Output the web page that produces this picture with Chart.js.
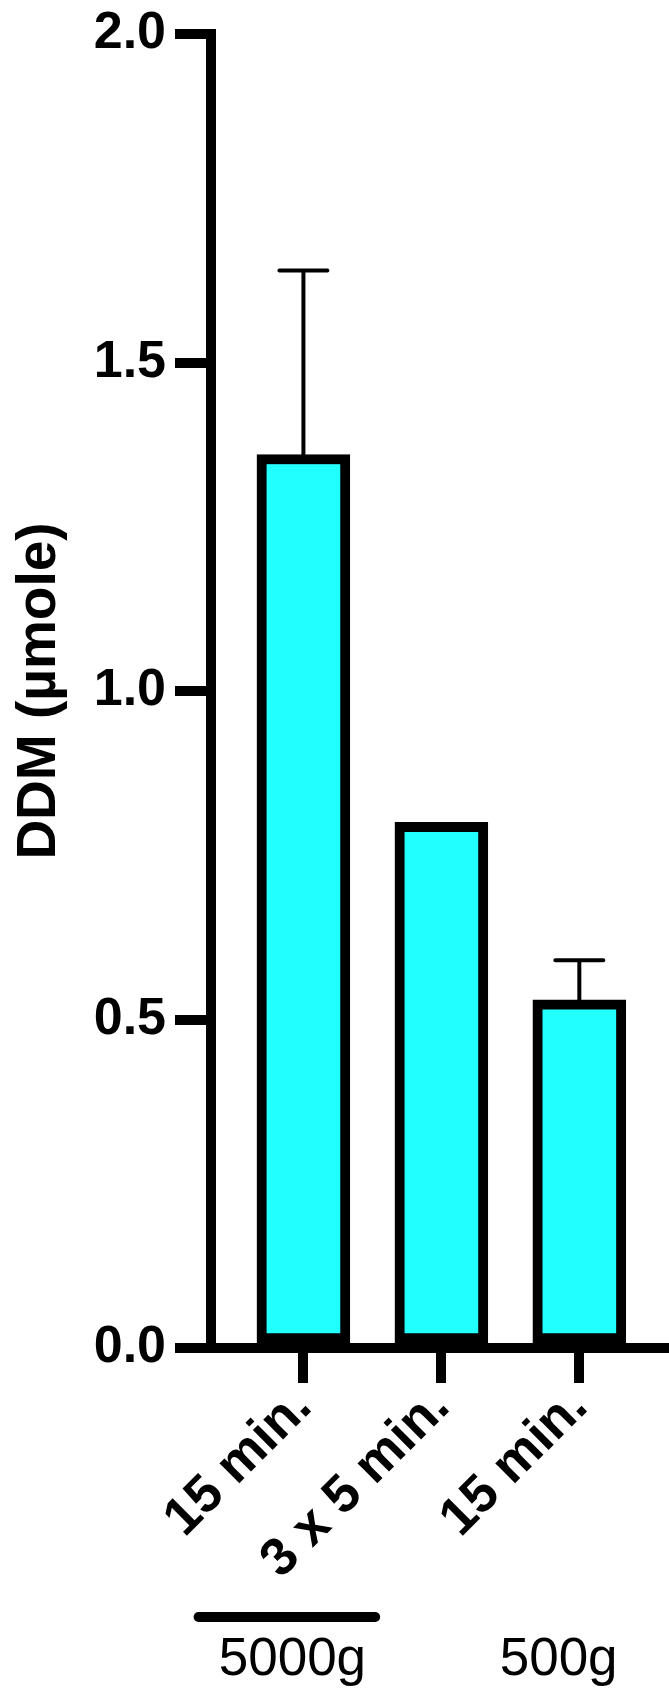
<!DOCTYPE html>
<html>
<head>
<meta charset="utf-8">
<script src="https://cdn.jsdelivr.net/npm/chart.js@4.4.1/dist/chart.umd.min.js"></script>
<style>
  html, body { margin: 0; padding: 0; background: #fff; }
  #wrap { width: 669px; height: 1689px; position: relative; }
</style>
</head>
<body>
<div id="wrap"><canvas id="DdmBar"></canvas></div>
<script>
// values
let tickLabels = ['15 min.', '3 x 5 min.', '15 min.'];
let ddmValues = [1.36, 0.80, 0.53];
let ddmErrors = [0.28, 0, 0.06];
let groupLabels = ['5000g', '500g'];
let yTicks = [0, 0.5, 1.0, 1.5, 2.0];

// group annotation placement (x in category units, y below plot area)
let groupStyle = [
    { center: -0.08, lineFrom: -0.76, lineTo: 0.52, line: true },
    { center: 1.85, line: false }
];

let fontFamily = "'Liberation Sans', Arial, Helvetica, sans-serif";

let errorBarPlugin = {
    id: 'errorBars',
    afterDatasetsDraw: function (chart) {
        let ctx = chart.ctx;
        let meta = chart.getDatasetMeta(0);
        let yScale = chart.scales.y;
        ctx.save();
        ctx.strokeStyle = '#000';
        ctx.lineWidth = 4;
        ctx.lineCap = 'round';
        for (let i = 0; i < ddmValues.length; i++) {
            if (!ddmErrors[i]) continue;
            let x = meta.data[i].x;
            let yBar = yScale.getPixelForValue(ddmValues[i]);
            let yTop = yScale.getPixelForValue(ddmValues[i] + ddmErrors[i]);
            ctx.beginPath();
            ctx.moveTo(x, yBar);
            ctx.lineTo(x, yTop);
            ctx.moveTo(x - 24, yTop);
            ctx.lineTo(x + 24, yTop);
            ctx.stroke();
        }
        ctx.restore();
    }
};

let groupPlugin = {
    id: 'groupLabels',
    afterDraw: function (chart) {
        let ctx = chart.ctx;
        let xScale = chart.scales.x;
        let bottom = chart.chartArea.bottom;
        ctx.save();
        ctx.fillStyle = '#000';
        ctx.strokeStyle = '#000';
        ctx.font = '53px ' + fontFamily;
        ctx.textAlign = 'center';
        ctx.textBaseline = 'alphabetic';
        for (let i = 0; i < groupLabels.length; i++) {
            let g = groupStyle[i];
            if (g.line) {
                ctx.lineWidth = 10;
                ctx.lineCap = 'round';
                ctx.beginPath();
                ctx.moveTo(xScale.getPixelForValue(g.lineFrom), bottom + 269);
                ctx.lineTo(xScale.getPixelForValue(g.lineTo), bottom + 269);
                ctx.stroke();
            }
            ctx.fillText(groupLabels[i], xScale.getPixelForValue(g.center), bottom + 327);
        }
        ctx.restore();
    }
};

let chartData = {
    datasets: [{
        data: ddmValues.map(function (v, i) { return { x: i, y: v }; }),
        backgroundColor: '#21FFFF',
        borderColor: '#000',
        borderWidth: 10,
        borderSkipped: false,
        barThickness: 93
    }]
};

window.ddmChart = new Chart(document.getElementById('DdmBar').getContext('2d'), {
    type: 'bar',
    data: chartData,
    plugins: [errorBarPlugin, groupPlugin],
    options: {
        responsive: true,
        maintainAspectRatio: false,
        animation: false,
        devicePixelRatio: 1,
        layout: { padding: { top: 34, left: 0, right: 0, bottom: 0 } },
        plugins: {
            legend: { display: false },
            tooltip: { enabled: false }
        },
        scales: {
            x: {
                type: 'linear',
                min: -0.67,
                max: 2.65,
                offset: false,
                afterFit: function (s) { s.height = 341; },
                afterBuildTicks: function (s) {
                    s.ticks = tickLabels.map(function (t, i) { return { value: i }; });
                },
                grid: {
                    offset: false,
                    drawOnChartArea: false,
                    color: '#000',
                    lineWidth: 10,
                    tickLength: 35
                },
                border: { display: true, color: '#000', width: 10 },
                ticks: {
                    autoSkip: false,
                    minRotation: 45,
                    maxRotation: 45,
                    padding: -7,
                    color: '#000',
                    font: { family: fontFamily, size: 53, weight: 'bold' },
                    callback: function (v) { return tickLabels[v]; }
                }
            },
            y: {
                min: 0,
                max: 2,
                afterFit: function (s) {
                    s.width = 211;
                    s.paddingTop = 0;
                    s.paddingBottom = 0;
                },
                afterBuildTicks: function (s) {
                    s.ticks = yTicks.map(function (v) { return { value: v }; });
                },
                grid: {
                    drawOnChartArea: false,
                    color: '#000',
                    lineWidth: 10,
                    tickLength: 36
                },
                border: { display: true, color: '#000', width: 10 },
                ticks: {
                    padding: 9,
                    color: '#000',
                    font: { family: fontFamily, size: 52, weight: 'bold' },
                    callback: function (v) { return v.toFixed(1); }
                },
                title: {
                    display: true,
                    text: 'DDM (µmole)',
                    color: '#000',
                    padding: { top: 7, bottom: 0 },
                    font: { family: fontFamily, size: 55, weight: 'bold' }
                }
            }
        }
    }
});
</script>
</body>
</html>
